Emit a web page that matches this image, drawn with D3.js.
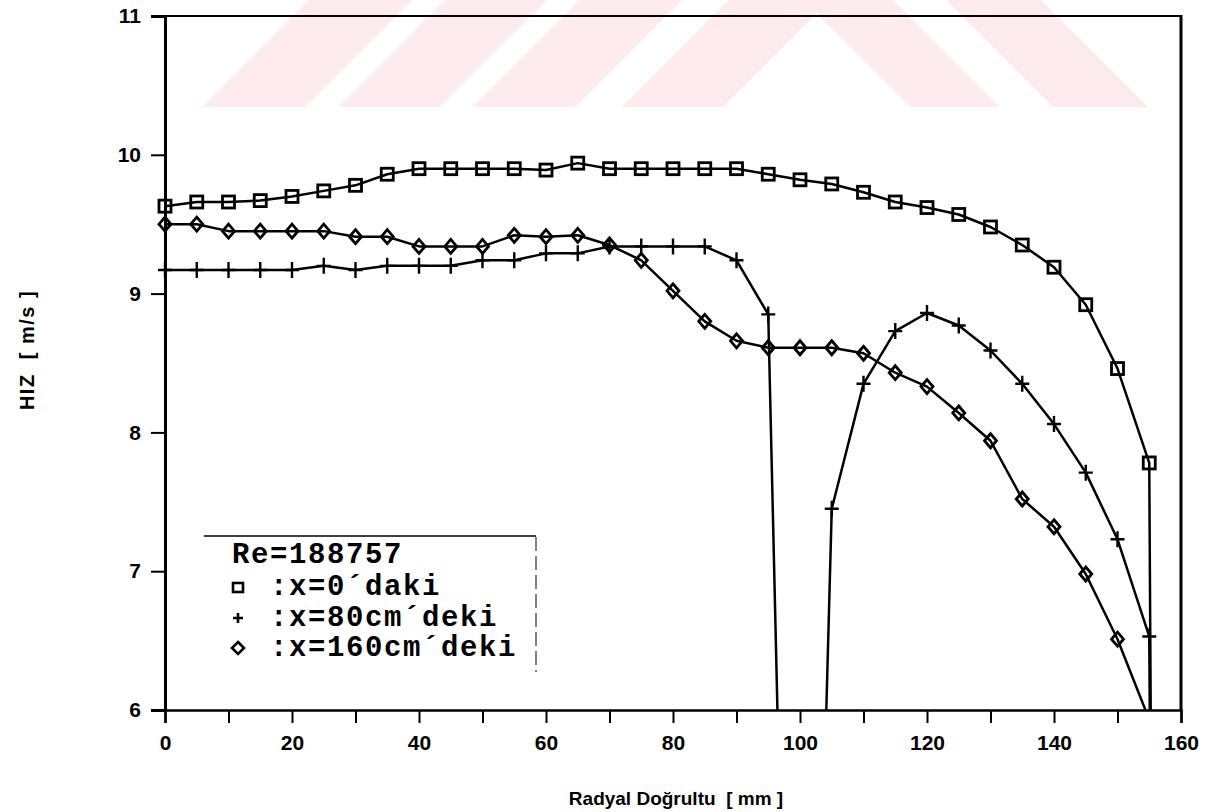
<!DOCTYPE html>
<html>
<head>
<meta charset="utf-8">
<script src="https://cdn.jsdelivr.net/npm/d3@7/dist/d3.min.js"></script>
<style>
  html, body { margin: 0; padding: 0; background: #fff; }
  svg { display: block; }
</style>
</head>
<body>
<script>
// ---------------- data ----------------
const radialX = [0,5,10,15,20,25,30,35,40,45,50,55,60,65,70,75,80,85,90,95,100,105,110,115,120,125,130,135,140,145,150,155,156];
const hizX0   = [9.63,9.66,9.66,9.67,9.70,9.74,9.78,9.86,9.90,9.90,9.90,9.90,9.89,9.94,9.90,9.90,9.90,9.90,9.90,9.86,9.82,9.79,9.73,9.66,9.62,9.57,9.48,9.35,9.19,8.92,8.46,7.78,0.0];
const hizX80  = [9.17,9.17,9.17,9.17,9.17,9.20,9.17,9.20,9.20,9.20,9.24,9.24,9.29,9.29,9.34,9.34,9.34,9.34,9.24,8.85,-1.0,7.45,8.35,8.73,8.86,8.77,8.59,8.35,8.06,7.71,7.23,6.53,0.0];
const hizX160 = [9.50,9.50,9.45,9.45,9.45,9.45,9.41,9.41,9.34,9.34,9.34,9.42,9.41,9.42,9.35,9.24,9.02,8.80,8.66,8.61,8.61,8.61,8.57,8.43,8.33,8.14,7.94,7.52,7.32,6.98,6.51,5.93];
const xTicks = [0,10,20,30,40,50,60,70,80,90,100,110,120,130,140,150,160];
const xTickLabels = [0,20,40,60,80,100,120,140,160];
const yTicks = [6,7,8,9,10,11];
const legendTitle = "Re=188757";
const seriesNames = [":x=0\u00B4daki", ":x=80cm\u00B4deki", ":x=160cm\u00B4deki"];
const xTitle = "Radyal Do\u011Frultu  [ mm ]";
const yTitle = "HIZ  [ m/s ]";

// ---------------- layout ----------------
const W = 1216, H = 812;
const L = 165, R = 1181, T = 16, B = 710;
const svg = d3.select("body").append("svg").attr("width", W).attr("height", H);

// watermark (decorative background bands)
const wmSlash = [[309,412],[445,547],[580,682],[729,830]];
const wmBack = [[803,893],[946,1041]];
const wmH = 107;
const wm = svg.append("g").attr("fill", "#fdebee");
wmSlash.forEach(([c0,c1]) => {
  wm.append("path").attr("d", `M${c0},0L${c1},0L${c1-wmH},${wmH}L${c0-wmH},${wmH}Z`);
});
wmBack.forEach(([d0,d1]) => {
  wm.append("path").attr("d", `M${d0},0L${d1},0L${d1+wmH},${wmH}L${d0+wmH},${wmH}Z`);
});

const x = d3.scaleLinear().domain([0,160]).range([L,R]);
const y = d3.scaleLinear().domain([6,11]).range([B,T]);

svg.append("defs").append("clipPath").attr("id","plotclip")
  .append("rect").attr("x", L).attr("y", T).attr("width", R-L).attr("height", B-T);

// frame
const frame = svg.append("g").attr("stroke","#000").attr("fill","none");
frame.append("line").attr("x1",L-2).attr("x2",R+1).attr("y1",T).attr("y2",T).attr("stroke-width",2);
frame.append("line").attr("x1",R).attr("x2",R).attr("y1",T-1).attr("y2",B+1).attr("stroke-width",3);

const tickFont = "'Liberation Sans Narrow','Liberation Sans',Arial,sans-serif";
// axes
const xAxis = d3.axisBottom(x).tickValues(xTicks).tickSize(13).tickPadding(12)
  .tickFormat(d => xTickLabels.includes(d) ? d : "");
const gx = svg.append("g").attr("transform", `translate(0,${B})`).call(xAxis);
gx.select(".domain").attr("stroke-width", 2.5);
gx.selectAll(".tick line").attr("stroke-width", 2);
gx.selectAll("text").attr("font-family",tickFont)
  .attr("font-weight","bold").attr("font-size", 21).attr("fill","#000");

const yAxis = d3.axisLeft(y).tickValues(yTicks).tickSize(14).tickPadding(10).tickFormat(d3.format("d"));
const gy = svg.append("g").attr("transform", `translate(${L},0)`).call(yAxis);
gy.select(".domain").attr("stroke-width", 3);
gy.selectAll(".tick line").attr("stroke-width", 2);
gy.selectAll("text").attr("font-family",tickFont)
  .attr("font-weight","bold").attr("font-size", 21).attr("fill","#000");

// titles
svg.append("text").attr("x", 676).attr("y", 805).attr("text-anchor","middle")
  .attr("font-family","'Liberation Sans',Arial,sans-serif").attr("font-weight","bold")
  .attr("font-size", 19).text(xTitle).style("white-space","pre");
svg.append("text").attr("transform", "translate(34,350) rotate(-90)").attr("text-anchor","middle")
  .attr("font-family",tickFont).attr("font-weight","bold")
  .attr("font-size", 20).attr("letter-spacing", 1.5).text(yTitle).style("white-space","pre");

// series
const series = [
  {vals: hizX0, sym: "square"},
  {vals: hizX80, sym: "plus"},
  {vals: hizX160, sym: "diamond"}
];
const line = d3.line().x(d => x(d[0])).y(d => y(d[1]));
const plot = svg.append("g");
series.forEach(s => {
  const pts = s.vals.map((v,i) => [radialX[i], v]);
  plot.append("path").datum(pts).attr("d", line).attr("fill","none")
    .attr("stroke","#000").attr("stroke-width", 2.5).attr("stroke-linejoin","round")
    .attr("clip-path","url(#plotclip)");
  const mk = pts.filter(p => p[1] >= 6 && p[1] <= 11);
  const g = plot.append("g");
  mk.forEach(p => {
    const cx = x(p[0]), cy = y(p[1]);
    if (s.sym === "square") {
      g.append("rect").attr("x", cx-6).attr("y", cy-6).attr("width", 12).attr("height", 12)
        .attr("fill","none").attr("stroke","#000").attr("stroke-width", 2.8);
    } else if (s.sym === "plus") {
      g.append("path").attr("d", `M${cx-7},${cy}H${cx+7}M${cx},${cy-8}V${cy+8}`)
        .attr("stroke","#000").attr("stroke-width", 2.4);
    } else {
      g.append("path").attr("d", `M${cx},${cy-7}L${cx+6},${cy}L${cx},${cy+7}L${cx-6},${cy}Z`)
        .attr("fill","none").attr("stroke","#000").attr("stroke-width", 2.8);
    }
  });
});

// legend
const lg = svg.append("g");
lg.append("line").attr("x1",204).attr("x2",536).attr("y1",536).attr("y2",536)
  .attr("stroke","#000").attr("stroke-width",1.6);
lg.append("line").attr("x1",536).attr("x2",536).attr("y1",537).attr("y2",672)
  .attr("stroke","#000").attr("stroke-width",1).attr("stroke-dasharray","14,5");
const monoFont = "'Liberation Mono','Courier New',monospace";
lg.append("text").attr("x",232).attr("y",563).attr("font-family",monoFont).attr("font-weight","bold")
  .attr("font-size",29).attr("letter-spacing",1.6).text(legendTitle);
const rowsY = [595, 626, 656];
seriesNames.forEach((nm,i) => {
  lg.append("text").attr("x",270).attr("y",rowsY[i]).attr("font-family",monoFont).attr("font-weight","bold")
    .attr("font-size",29).attr("letter-spacing",1.6).text(nm);
  const cx = 238, cy = rowsY[i] - 8;
  if (i === 0) {
    lg.append("rect").attr("x",cx-5).attr("y",cy-4).attr("width",10).attr("height",9)
      .attr("fill","none").attr("stroke","#000").attr("stroke-width",2.6);
  } else if (i === 1) {
    lg.append("path").attr("d",`M${cx-5},${cy}H${cx+5}M${cx},${cy-5}V${cy+5}`)
      .attr("stroke","#000").attr("stroke-width",2.6);
  } else {
    lg.append("path").attr("d",`M${cx},${cy-6}L${cx+6},${cy}L${cx},${cy+6}L${cx-6},${cy}Z`)
      .attr("fill","none").attr("stroke","#000").attr("stroke-width",2.6);
  }
});
</script>
</body>
</html>
